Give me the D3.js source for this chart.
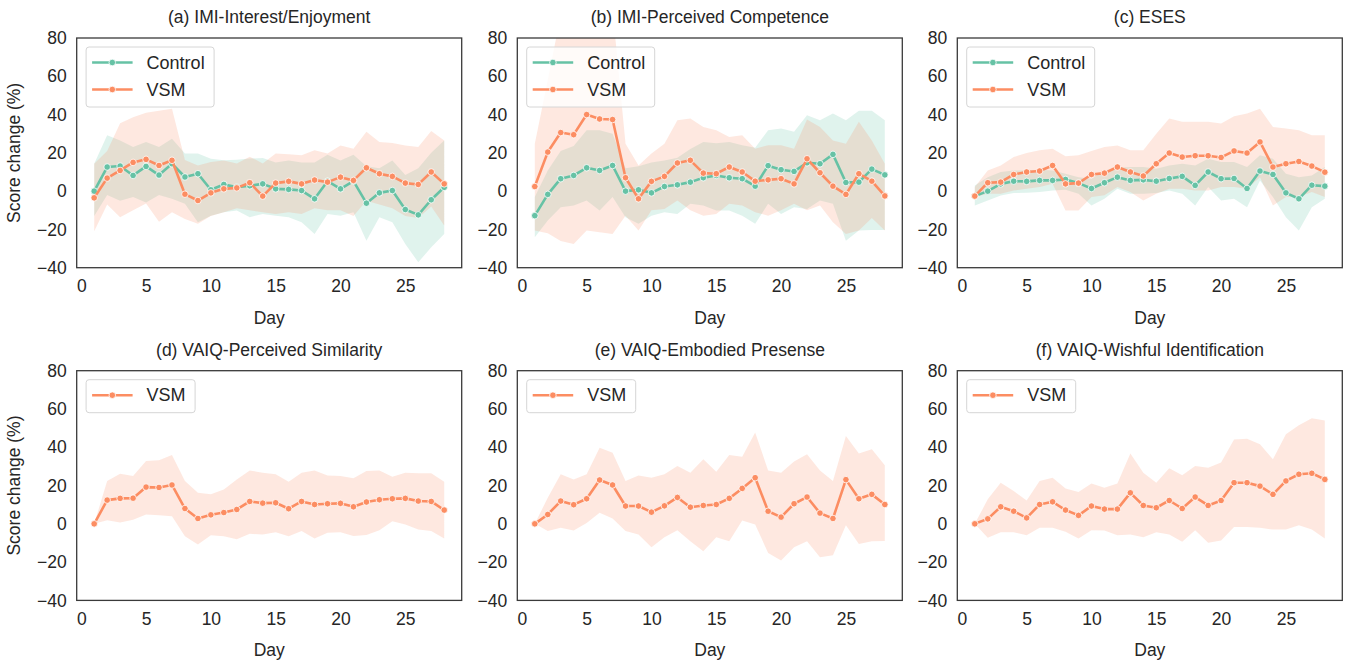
<!DOCTYPE html>
<html>
<head>
<meta charset="utf-8">
<script src="https://cdn.jsdelivr.net/npm/d3@7"></script>
<style>
body { margin: 0; background: #fff; }
text { font-family: "Liberation Sans", Arial, sans-serif; fill: #262626; }
</style>
</head>
<body>
<script>
var days = [1,2,3,4,5,6,7,8,9,10,11,12,13,14,15,16,17,18,19,20,21,22,23,24,25,26,27,28];
var xTicks = [0, 5, 10, 15, 20, 25];
var yTicks = [-40, -20, 0, 20, 40, 60, 80];

// (a) IMI-Interest/Enjoyment
var aCtrl   = [0, 12.6, 13.1, 8.2, 12.9, 8.4, 14.3, 7.4, 9.1, 0.7, 3.5, 2.1, 2.8, 3.8, 1.2, 0.9, 0.3, -4.0, 5.2, 1.2, 5.2, -6.3, -0.9, 0.3, -9.6, -12.4, -4.5, 2];
var aCtrlLo = [-13, -2, -5, -3, -6, -2, -4, -6.6, -16.2, -12.8, -11, -10.1, -13.6, -11.9, -12.8, -13.6, -16.2, -22.4, -11.9, -12.8, -11, -25.9, -13.6, -16.2, -27.6, -37.2, -29.3, -22.4];
var aCtrlHi = [14.3, 29.2, 26.5, 23, 25.7, 23, 27.4, 19.6, 19.6, 16.9, 16.1, 16.4, 17, 17.3, 15, 16, 15, 15, 19, 16, 19, 13, 12, 16, 8.4, 12, 20, 26.5];
var aVsm    = [-3.5, 6.8, 10.8, 15.0, 16.6, 13.4, 16.1, -1.6, -4.9, -0.9, 1.2, 1.7, 4.4, -2.6, 4.2, 5.1, 3.8, 5.8, 4.7, 7.3, 5.6, 12.2, 9.1, 7.7, 4.2, 3.5, 10.0, 3.8];
var aVsmLo  = [-21, -7, -13.6, -10, -6.5, -16, -11, -14.5, -17, -13, -11, -9, -10, -11, -12, -11, -12, -9, -10, -10, -13, -5, -7, -9, -13, -14, -8, -18];
var aVsmHi  = [14.3, 21, 35.5, 38.6, 41, 42, 43, 16.3, 13.4, 15.2, 16, 14.5, 18, 14.5, 19.6, 19.3, 18.8, 21.3, 19.6, 23.9, 22.2, 31, 25.7, 25.2, 23.9, 23, 31.4, 26.5];

// (b) IMI-Perceived Competence
var bCtrl   = [-12.8, -1.7, 6.5, 8.2, 12.2, 10.8, 13.4, 0, 0.7, -0.9, 2.4, 3.3, 4.7, 7.0, 8.2, 7.0, 6.5, 2.6, 13.3, 11.2, 10.3, 14.8, 14.3, 19.2, 4.5, 4.7, 11.5, 8.5];
var bCtrlLo = [-24.1, -15.4, -8.4, -7.5, -4.9, -10.1, -3.1, -13.6, -17.1, -12.8, -11, -11.9, -6.6, -7.5, -10.1, -10.1, -12.8, -17.1, -6.6, -11.9, -8.4, -9.3, -4.9, -6.6, -25.9, -20.6, -20.3, -20.3];
var bCtrlHi = [-3, 10.8, 21, 23.6, 31.8, 31.8, 30, 12, 13, 15, 16, 17.5, 22, 25.7, 25, 25.7, 24, 22.7, 31.8, 32.7, 31, 39.6, 37, 40.5, 37, 42, 42, 37];
var bVsm    = [2.4, 20.4, 30.6, 29.5, 40, 37.7, 37.4, 7.0, -4.0, 5.1, 7.7, 14.7, 16.1, 9.4, 9.1, 12.6, 10, 5.2, 5.9, 6.5, 3.8, 16.9, 9.6, 2.6, -1.7, 9.1, 5.2, -2.5];
var bVsmLo  = [-20.6, -22, -26, -27.6, -20.6, -21.5, -22.4, -12.8, -20.6, -10, -9.3, -4.9, -10, -12.8, -11.9, -6.6, -7.5, -11, -12.8, -10, -6.6, -10, -7.5, -16.2, -22.4, -20.6, -14, -20.6];
var bVsmHi  = [24.8, 58, 92, 100, 100, 100, 95, 24.8, 13.4, 19.6, 24.8, 37, 38, 33.5, 31.8, 28.3, 29.2, 22.2, 24, 24, 22.2, 37.4, 33.5, 26.5, 24.8, 36.2, 26.5, 14.3];

// (c) ESES
var cCtrl   = [-2.6, 0, 3.8, 5.2, 5.1, 5.6, 5.6, 6.1, 4.2, 1.4, 4.4, 7.3, 5.6, 5.9, 5.2, 6.6, 7.7, 3.0, 10.0, 6.5, 6.6, 1.4, 10.5, 8.7, -0.9, -4.0, 3.1, 2.6];
var cCtrlLo = [-7.5, -4.9, -2.3, -1.0, -0.9, -0.5, 0.3, 0.7, -1.4, -7.5, -4.0, 1.2, -1.4, -1.4, -1.0, 0.3, -1.4, -7.5, 2.1, -4.9, -4.0, -8.4, 5.6, -3.1, -13.6, -20.6, -8.4, -4.0];
var cCtrlHi = [3.0, 7.3, 10.0, 10.8, 10.8, 11.2, 10.8, 9.1, 7.3, 6.5, 10.8, 12.2, 12.6, 12.6, 11.7, 13.4, 14.3, 13.4, 16.9, 15.2, 15.2, 12.6, 18.7, 16.9, 9.1, 7.3, 8.2, 12.6];
var cVsm    = [-2.6, 4.4, 4.7, 8.7, 10, 10.5, 13.4, 3.8, 4.2, 8.7, 9.4, 12.6, 10, 7.9, 14.3, 19.9, 17.8, 18.5, 18.5, 17.6, 21, 19.9, 25.7, 12.6, 14.3, 15.5, 13.1, 9.9];
var cVsmLo  = [-3.1, -1.4, -1.4, 0.3, 1.2, 2.1, 3.8, -10.1, -10.1, -3.1, -2.2, 2.1, -0.5, -4.9, -1.4, 1.2, 1.2, 0.3, 0.3, 2.1, 2.1, 1.2, 7.3, -7.5, -3.1, -3.1, -0.5, -3.0];
var cVsmHi  = [2.1, 10.8, 13.4, 17.8, 19.9, 21.3, 22.2, 18.2, 18.7, 21.0, 23.1, 23.9, 21.3, 21.3, 30.0, 37.9, 36.2, 36.2, 36.2, 35.3, 39.1, 40.5, 43.1, 33.5, 32.7, 31.8, 29.2, 29.2];

// (d) VAIQ-Perceived Similarity
var dVsm   = [0, 12.4, 13.3, 13.4, 19.2, 19.0, 20.3, 8.0, 2.8, 4.7, 5.9, 7.5, 11.7, 10.8, 11, 7.9, 11.7, 10.1, 10.5, 10.7, 8.9, 11.4, 12.6, 13.1, 13.3, 11.9, 11.7, 7.2];
var dVsmLo = [0, 1.9, 0.7, 2.1, 4.9, 4.5, 4.0, -6.5, -10.8, -5.9, -6.5, -8.0, -5.2, -5.6, -4.4, -6.5, -3.8, -7.7, -4.7, -4.4, -6.3, -5.8, -3.3, 1.4, -0.3, -3.0, -3.8, -7.7];
var dVsmHi = [0, 22.4, 26.2, 25.0, 32.8, 33.2, 36.0, 22.4, 16.2, 15.4, 18.0, 23.2, 27.9, 26.7, 25.9, 22.0, 26.7, 27.9, 25.3, 25.0, 23.8, 27.6, 27.9, 24.6, 26.7, 26.4, 26.4, 22.0];

// (e) VAIQ-Embodied Presense
var eVsm   = [0, 4.9, 11.9, 10, 13.1, 22.9, 20.3, 9.3, 9.3, 6.1, 9.4, 13.8, 8.7, 9.6, 10.1, 13.3, 18.5, 24.1, 6.6, 3.5, 10.5, 14.0, 5.6, 2.8, 23.1, 13.1, 15.4, 10.1];
var eVsmLo = [0, -3.8, -2.1, -3.5, 0.5, 5.8, 2.8, -3.8, -5.6, -12.2, -7.0, -3.3, -9.1, -14.3, -7.0, -9.1, 1.7, -0.3, -15.2, -19.2, -12.2, -9.1, -17.5, -16.4, -0.7, -10.5, -9.1, -9.0];
var eVsmHi = [0, 13.6, 25.9, 23.2, 25.9, 39.8, 37.2, 22.4, 25.3, 24.1, 25.9, 30.2, 26.7, 33.7, 27.2, 36.0, 35.1, 47.7, 27.9, 26.7, 32.5, 36.3, 27.9, 22.4, 45.9, 36.7, 39.0, 30.6];

// (f) VAIQ-Wishful Identification
var fVsm   = [0, 2.6, 8.9, 6.6, 3.1, 10.1, 11.5, 7.2, 4.4, 9.3, 7.7, 7.7, 16.2, 9.6, 8.4, 12.2, 8.0, 14.0, 9.6, 12.2, 21.5, 21.5, 19.7, 15.4, 22.4, 25.9, 26.4, 23.2];
var fVsmLo = [0, -7.3, -4.4, -4.4, -5.9, -2.1, -2.1, -4.2, -7.7, -3.3, -3.5, -5.9, -5.6, -7.0, -4.4, -5.6, -9.4, -3.3, -9.9, -8.7, -1.7, -1.7, -2.1, -3.0, -3.0, -0.7, -3.0, -7.7];
var fVsmHi = [0, 12.8, 21.5, 17.1, 12.2, 22.4, 24.1, 18.5, 16.6, 21.1, 18.8, 21.1, 36.7, 26.7, 21.5, 29.0, 25.4, 30.2, 29.3, 32.0, 44.0, 44.4, 41.6, 33.7, 46.8, 51.5, 55.2, 54.0];

var green = "#66c2a5", orange = "#fc8d62";
function ser(name, color, mean, lo, hi) { return {name: name, color: color, mean: mean, lo: lo, hi: hi}; }

var panels = [
  {title: "(a) IMI-Interest/Enjoyment", series: [ser("Control", green, aCtrl, aCtrlLo, aCtrlHi), ser("VSM", orange, aVsm, aVsmLo, aVsmHi)]},
  {title: "(b) IMI-Perceived Competence", series: [ser("Control", green, bCtrl, bCtrlLo, bCtrlHi), ser("VSM", orange, bVsm, bVsmLo, bVsmHi)]},
  {title: "(c) ESES", series: [ser("Control", green, cCtrl, cCtrlLo, cCtrlHi), ser("VSM", orange, cVsm, cVsmLo, cVsmHi)]},
  {title: "(d) VAIQ-Perceived Similarity", series: [ser("VSM", orange, dVsm, dVsmLo, dVsmHi)]},
  {title: "(e) VAIQ-Embodied Presense", series: [ser("VSM", orange, eVsm, eVsmLo, eVsmHi)]},
  {title: "(f) VAIQ-Wishful Identification", series: [ser("VSM", orange, fVsm, fVsmLo, fVsmHi)]}
];

var W = 1346, H = 663;
var lefts = [76.7, 517.3, 957.3], tops = [38, 370.7];
var pw = 385, ph = 229.7;

var svg = d3.select("body").append("svg").attr("width", W).attr("height", H);

var x = d3.scaleLinear().domain([-0.35, 29.35]).range([0, pw]);
var y = d3.scaleLinear().domain([-40, 80]).range([ph, 0]);

var area = d3.area()
    .x(function(d) { return x(d.day); })
    .y0(function(d) { return y(d.lo); })
    .y1(function(d) { return y(d.hi); });
var line = d3.line()
    .x(function(d) { return x(d.day); })
    .y(function(d) { return y(d.v); });

panels.forEach(function(p, i) {
  var col = i % 3, row = Math.floor(i / 3);
  var g = svg.append("g").attr("transform", "translate(" + lefts[col] + "," + tops[row] + ")");

  g.append("clipPath").attr("id", "clip" + i)
    .append("rect").attr("width", pw).attr("height", ph);

  var plot = g.append("g").attr("clip-path", "url(#clip" + i + ")");

  // bands first, all lines on top (matplotlib zorder)
  p.series.forEach(function(s) {
    var pts = days.map(function(d, k) { return {day: d, lo: s.lo[k], hi: s.hi[k]}; });
    plot.append("path").attr("d", area(pts))
      .attr("fill", s.color).attr("fill-opacity", 0.2);
  });
  p.series.forEach(function(s) {
    var pts = days.map(function(d, k) { return {day: d, v: s.mean[k]}; });
    plot.append("path").attr("d", line(pts))
      .attr("fill", "none").attr("stroke", s.color).attr("stroke-width", 2.6)
      .attr("stroke-linejoin", "round");
    plot.selectAll(null).data(pts).enter().append("circle")
      .attr("cx", function(d) { return x(d.day); })
      .attr("cy", function(d) { return y(d.v); })
      .attr("r", 3.3)
      .attr("fill", s.color).attr("stroke", "#fff").attr("stroke-width", 0.8);
  });

  // axes, no tick marks
  var xa = g.append("g").attr("transform", "translate(0," + ph + ")")
    .call(d3.axisBottom(x).tickValues(xTicks).tickSize(0).tickPadding(12));
  var ya = g.append("g")
    .call(d3.axisLeft(y).tickValues(yTicks).tickSize(0).tickPadding(10).tickFormat(function(d) { return d < 0 ? "\u2212" + Math.abs(d) : d; }));
  [xa, ya].forEach(function(a) {
    a.select(".domain").remove();
    a.selectAll("text").attr("font-size", 17.5).attr("fill", "#262626")
      .style("font-family", '"Liberation Sans", Arial, sans-serif');
  });

  g.append("rect").attr("width", pw).attr("height", ph)
    .attr("fill", "none").attr("stroke", "#3a3a3a").attr("stroke-width", 1.3);

  g.append("text").attr("x", pw / 2).attr("y", -15)
    .attr("text-anchor", "middle").attr("font-size", 17.5).text(p.title);

  g.append("text").attr("x", pw / 2).attr("y", ph + 56)
    .attr("text-anchor", "middle").attr("font-size", 17.5).text("Day");

  if (col === 0) {
    g.append("text")
      .attr("transform", "translate(" + (-57) + "," + (ph / 2) + ") rotate(-90)")
      .attr("text-anchor", "middle").attr("font-size", 17.5).text("Score change (%)");
  }

  // legend
  var n = p.series.length;
  var lw = n === 2 ? 128 : 109, lh = n === 2 ? 60 : 33;
  var leg = g.append("g").attr("transform", "translate(9.4,9)");
  leg.append("rect").attr("width", lw).attr("height", lh).attr("rx", 3)
    .attr("fill", "#fff").attr("fill-opacity", 0.8)
    .attr("stroke", "#d6d6d6").attr("stroke-width", 1);
  p.series.forEach(function(s, k) {
    var ry = 15.5 + k * 27;
    leg.append("line").attr("x1", 6).attr("x2", 46.5).attr("y1", ry).attr("y2", ry)
      .attr("stroke", s.color).attr("stroke-width", 2.6);
    leg.append("circle").attr("cx", 26.2).attr("cy", ry).attr("r", 3.3)
      .attr("fill", s.color).attr("stroke", "#fff").attr("stroke-width", 0.8);
    leg.append("text").attr("x", 60.5).attr("y", ry).attr("dy", "0.35em")
      .attr("font-size", 18).text(s.name);
  });
});
</script>
</body>
</html>
